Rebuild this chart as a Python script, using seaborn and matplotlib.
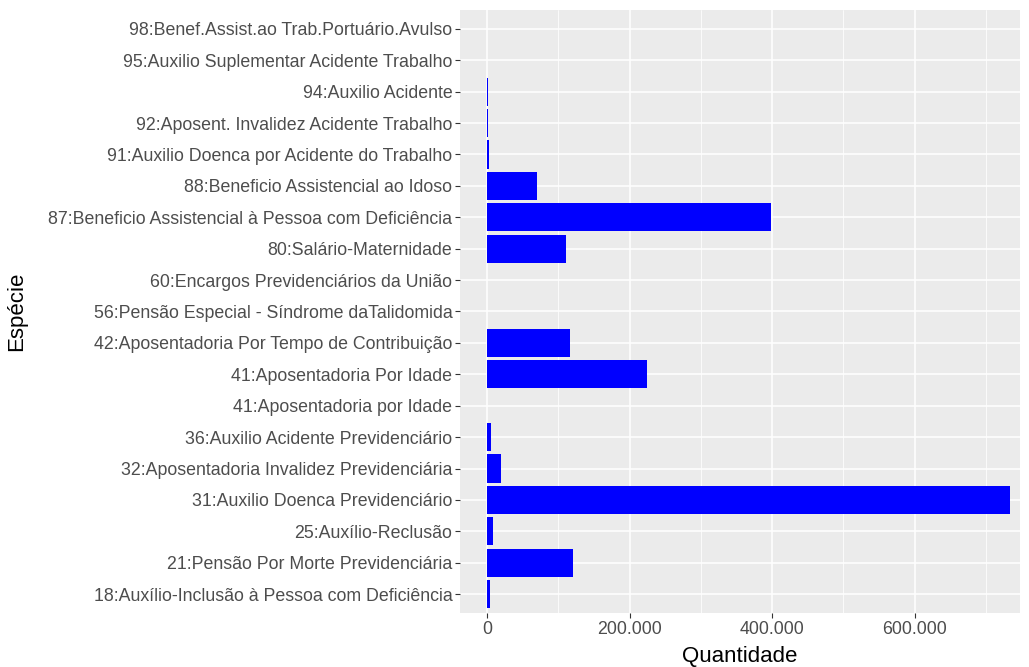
# Quantidade de benefícios por espécie (barras horizontais, estilo ggplot)

import pandas as pd
import seaborn as sns
import matplotlib.pyplot as plt
from matplotlib.ticker import FuncFormatter, MultipleLocator

# -------------------------------
# DADOS
# -------------------------------
especies = [
    "98:Benef.Assist.ao Trab.Portuário.Avulso",
    "95:Auxilio Suplementar Acidente Trabalho",
    "94:Auxilio Acidente",
    "92:Aposent. Invalidez Acidente Trabalho",
    "91:Auxilio Doenca por Acidente do Trabalho",
    "88:Beneficio Assistencial ao Idoso",
    "87:Beneficio Assistencial à Pessoa com Deficiência",
    "80:Salário-Maternidade",
    "60:Encargos Previdenciários da União",
    "56:Pensão Especial - Síndrome daTalidomida",
    "42:Aposentadoria Por Tempo de Contribuição",
    "41:Aposentadoria Por Idade",
    "41:Aposentadoria por Idade",
    "36:Auxilio Acidente Previdenciário",
    "32:Aposentadoria Invalidez Previdenciária",
    "31:Auxilio Doenca Previdenciário",
    "25:Auxílio-Reclusão",
    "21:Pensão Por Morte Previdenciária",
    "18:Auxílio-Inclusão à Pessoa com Deficiência",
]
quantidade = [
    0, 0, 1800, 1800, 3500, 70000, 399000, 111000, 0, 0,
    116000, 224000, 0, 5500, 19500, 734000, 9000, 121000, 4000,
]

df = pd.DataFrame({"Espécie": especies, "Quantidade": quantidade})

# -------------------------------
# ESTILO
# -------------------------------
sns.set_style("darkgrid", {
    "axes.facecolor": "#EBEBEB",
    "grid.color": "white",
})
plt.rcParams["font.family"] = ["Liberation Sans", "DejaVu Sans"]

fig = plt.figure(figsize=(10.29, 6.67), dpi=100)
ax = fig.add_axes([460 / 1029, 54 / 667, 560 / 1029, 603 / 667])

sns.barplot(data=df, x="Quantidade", y="Espécie", order=especies,
            color="#0000FF", saturation=1, width=0.9, orient="h",
            edgecolor="none", linewidth=0, ax=ax)

# eixo x
ax.set_xlim(-37900, 748000)
ax.xaxis.set_major_locator(MultipleLocator(200000))
ax.xaxis.set_minor_locator(MultipleLocator(100000))
ax.xaxis.set_major_formatter(FuncFormatter(lambda v, p: f"{int(v):,}".replace(",", ".")))
ax.set_ylim(len(especies) - 0.4, -0.6)

ax.grid(which="major", color="white", linewidth=1.1)
ax.grid(which="minor", axis="x", color="white", linewidth=0.55)
for s in ax.spines.values():
    s.set_visible(False)

ax.tick_params(axis="both", which="major", bottom=True, left=True,
               length=3.5, width=0.8, color="#333333",
               labelcolor="#4D4D4D", labelsize=12.8, pad=2)
ax.tick_params(axis="both", which="minor", length=0)

ax.set_xlabel("Quantidade", fontsize=16, color="black")
ax.set_ylabel("Espécie", fontsize=16, color="black")
ax.xaxis.set_label_coords(0.5, -0.055)
ax.yaxis.set_label_coords(-0.773, 0.5)

fig.savefig("out.png", dpi=100)
